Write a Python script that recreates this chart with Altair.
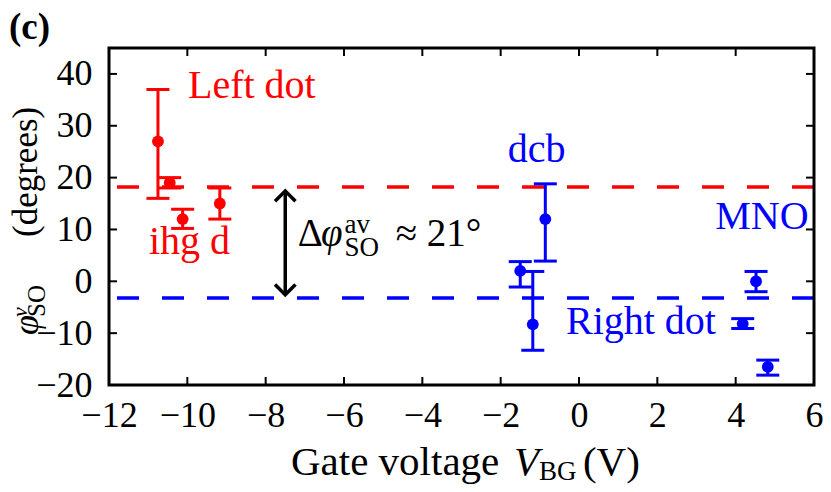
import altair as alt
import pandas as pd

# ---------------- data ----------------
left_x = [-10.75, -10.45, -10.12, -9.17]
left_y = [27.0, 19.0, 12.0, 15.0]
left_lo = [16.0, 18.0, 10.2, 12.0]
left_hi = [37.0, 20.0, 13.9, 18.0]

right_x = [-1.50, -1.18, -0.86, 4.18, 4.52, 4.82]
right_y = [2.0, -8.3, 12.0, -8.2, 0.0, -16.5]
right_lo = [-1.1, -13.3, 3.9, -9.1, -2.0, -18.1]
right_hi = [3.8, 1.9, 18.8, -7.2, 1.9, -15.2]

avg_values = [18.2, -3.2]          # average phi_SO for left / right dot
arrow_x = [-7.5]
arrow_top = [17.4]
arrow_bottom = [-2.6]

x_ticks = list(range(-12, 7, 2))
y_ticks = list(range(-20, 41, 10))
X_DOMAIN = [-12, 6]
Y_DOMAIN = [-20, 45]

# ---------------- styling ----------------
W, H = 705, 337
FONT = "Liberation Serif"
RED = "#ff0000"
BLUE = "#0000ff"

xs = alt.Scale(domain=X_DOMAIN, nice=False, zero=False)
ys = alt.Scale(domain=Y_DOMAIN, nice=False, zero=False)
cs = alt.Scale(domain=["Left", "Right"], range=[RED, BLUE])

x_axis = alt.Axis(values=x_ticks, ticks=False, domain=False, grid=False, title=None,
                  labelFont=FONT, labelFontSize=36, labelColor="black",
                  labelPadding=13, labelFlush=False, labelOverlap=False)
y_axis = alt.Axis(values=y_ticks, ticks=False, domain=False, grid=False, title=None,
                  labelFont=FONT, labelFontSize=36, labelColor="black",
                  labelPadding=17, labelFlush=False, labelOverlap=False)

pts = pd.DataFrame({
    "x": left_x + right_x,
    "y": left_y + right_y,
    "lo": left_lo + right_lo,
    "hi": left_hi + right_hi,
    "dot": ["Left"] * len(left_x) + ["Right"] * len(right_x),
})

base = alt.Chart(pts)
color = alt.Color("dot:N", scale=cs, legend=None)

bars = base.mark_rule(strokeWidth=3).encode(
    x=alt.X("x:Q", scale=xs, axis=x_axis),
    y=alt.Y("lo:Q", scale=ys, axis=y_axis),
    y2="hi:Q",
    color=color,
)
cap_lo = base.mark_tick(orient="horizontal", size=23, thickness=3, opacity=1).encode(
    x=alt.X("x:Q", scale=xs), y=alt.Y("lo:Q", scale=ys), color=color)
cap_hi = base.mark_tick(orient="horizontal", size=23, thickness=3, opacity=1).encode(
    x=alt.X("x:Q", scale=xs), y=alt.Y("hi:Q", scale=ys), color=color)
dots = base.mark_circle(size=140, opacity=1).encode(
    x=alt.X("x:Q", scale=xs), y=alt.Y("y:Q", scale=ys), color=color)

avg = alt.Chart(pd.DataFrame({"y": avg_values, "dot": ["Left", "Right"]})).mark_rule(
    strokeWidth=3.5, strokeDash=[22, 23]).encode(
    y=alt.Y("y:Q", scale=ys), color=color)

arr_df = pd.DataFrame({"x": arrow_x, "top": arrow_top, "bottom": arrow_bottom})
arr_line = alt.Chart(arr_df).mark_rule(color="black", strokeWidth=3.5).encode(
    x=alt.X("x:Q", scale=xs), y=alt.Y("top:Q", scale=ys), y2="bottom:Q")
head_up = alt.Chart(arr_df).mark_point(
    shape="M-1,1L0,0L1,1", size=420, filled=False, color="black",
    strokeWidth=3.5, opacity=1, strokeJoin="miter").encode(
    x=alt.X("x:Q", scale=xs), y=alt.Y("top:Q", scale=ys))
head_down = alt.Chart(arr_df).mark_point(
    shape="M-1,-1L0,0L1,-1", size=420, filled=False, color="black",
    strokeWidth=3.5, opacity=1, strokeJoin="miter").encode(
    x=alt.X("x:Q", scale=xs), y=alt.Y("bottom:Q", scale=ys))

# black frame round the plot area
frame = alt.Chart(pd.DataFrame({"k": [0]})).mark_rect(
    fillOpacity=0, stroke="black", strokeWidth=3).encode(
    x=alt.value(0), x2=alt.value(W), y=alt.value(0), y2=alt.value(H))

# inward ticks on all four sides
ydf = pd.DataFrame({"v": y_ticks})
xdf = pd.DataFrame({"v": x_ticks})
tick_l = alt.Chart(ydf).mark_rule(color="black", strokeWidth=2).encode(
    y=alt.Y("v:Q", scale=ys), x=alt.value(0), x2=alt.value(8))
tick_r = alt.Chart(ydf).mark_rule(color="black", strokeWidth=2).encode(
    y=alt.Y("v:Q", scale=ys), x=alt.value(W), x2=alt.value(W - 8))
tick_b = alt.Chart(xdf).mark_rule(color="black", strokeWidth=2).encode(
    x=alt.X("v:Q", scale=xs), y=alt.value(H), y2=alt.value(H - 8))
tick_t = alt.Chart(xdf).mark_rule(color="black", strokeWidth=2).encode(
    x=alt.X("v:Q", scale=xs), y=alt.value(0), y2=alt.value(8))


def label(text, x, y, color="black", size=40, **kw):
    return alt.Chart(pd.DataFrame({"t": [text], "x": [x], "y": [y]})).mark_text(
        align="left", baseline="alphabetic", font=FONT, fontSize=size, color=color, **kw).encode(
        x=alt.X("x:Q", scale=xs), y=alt.Y("y:Q", scale=ys), text="t:N")


texts = [
    label("Left dot", -9.983, 35.36, RED),
    label("ihg d", -10.979, 5.27, RED),
    label("dcb", -1.821, 23.07, BLUE),
    label("MNO", 3.479, 10.03, BLUE),
    label("Right dot", -0.333, -10.22, BLUE),
    # Δφ_SO^av ≈ 21°
    label("Δ", -7.183, 6.81, size=39),
    label("φ", -6.588, 6.81, size=39, fontStyle="italic"),
    label("av", -5.99, 9.38, size=27),
    label("SO", -5.99, 4.88, size=27),
    label("≈ 21°", -4.68, 6.81, size=39),
    # x title
    label("Gate voltage", -7.354, -37.35, size=41),
    label("V", -1.661, -37.35, size=41, fontStyle="italic"),
    label("BG", -1.023, -38.32, size=27),
    label("(V)", 0.101, -37.35, size=41),
    # y title (rotated)
    label("φ", -13.818, -10.35, size=36, angle=270, fontStyle="italic"),
    label("SO", -13.634, -6.88, size=25, angle=270),
    label("ν", -14.093, -6.88, size=22, angle=270, fontStyle="italic"),
    label("(degrees)", -13.838, 8.55, size=35, angle=270),
    # panel label
    label("(c)", -14.553, 46.81, size=37, fontWeight="bold"),
]

chart = alt.layer(
    avg, bars, cap_lo, cap_hi, dots, arr_line, head_up, head_down,
    frame, tick_l, tick_r, tick_b, tick_t, *texts
).properties(width=W, height=H, padding=0)

chart.save("out.html", embed_options={"renderer": "svg", "actions": False})
